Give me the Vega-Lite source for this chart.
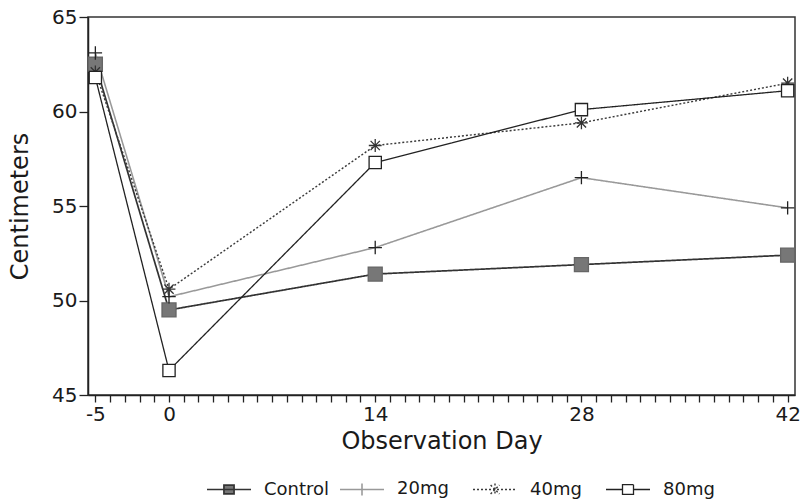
{
  "$schema": "https://vega.github.io/schema/vega-lite/v6.json",
  "width": 707,
  "height": 378,
  "autosize": {"type": "none"},
  "padding": {"left": 88, "top": 17, "right": 10, "bottom": 107},
  "background": "white",
  "config": {
    "view": {"stroke": "#333", "strokeWidth": 1.5},
    "font": "DejaVu Sans",
    "axis": {
      "grid": false,
      "domainColor": "#222",
      "domainWidth": 1.5,
      "tickColor": "#222",
      "tickWidth": 1.3,
      "labelColor": "#1a1a1a",
      "titleColor": "#1a1a1a",
      "labelFont": "DejaVu Sans",
      "titleFont": "DejaVu Sans",
      "titleFontWeight": "normal",
      "labelFontSize": 20,
      "titleFontSize": 24
    }
  },
  "data": {
    "values": [
      {"day": -5, "cm": 62.5, "group": "Control"},
      {"day": 0, "cm": 49.5, "group": "Control"},
      {"day": 14, "cm": 51.4, "group": "Control"},
      {"day": 28, "cm": 51.9, "group": "Control"},
      {"day": 42, "cm": 52.4, "group": "Control"},
      {"day": -5, "cm": 63.1, "group": "20mg"},
      {"day": 0, "cm": 50.2, "group": "20mg"},
      {"day": 14, "cm": 52.8, "group": "20mg"},
      {"day": 28, "cm": 56.5, "group": "20mg"},
      {"day": 42, "cm": 54.9, "group": "20mg"},
      {"day": -5, "cm": 62.1, "group": "40mg"},
      {"day": 0, "cm": 50.6, "group": "40mg"},
      {"day": 14, "cm": 58.2, "group": "40mg"},
      {"day": 28, "cm": 59.4, "group": "40mg"},
      {"day": 42, "cm": 61.5, "group": "40mg"},
      {"day": -5, "cm": 61.8, "group": "80mg"},
      {"day": 0, "cm": 46.3, "group": "80mg"},
      {"day": 14, "cm": 57.3, "group": "80mg"},
      {"day": 28, "cm": 60.1, "group": "80mg"},
      {"day": 42, "cm": 61.1, "group": "80mg"}
    ]
  },
  "encoding": {
    "x": {
      "field": "day",
      "type": "quantitative",
      "title": "Observation Day",
      "scale": {"domain": [-5.5, 42.5], "nice": false, "zero": false},
      "axis": {
        "values": [-5,-4,-3,-2,-1,0,1,2,3,4,5,6,7,8,9,10,11,12,13,14,15,16,17,18,19,20,21,22,23,24,25,26,27,28,29,30,31,32,33,34,35,36,37,38,39,40,41,42],
        "labelExpr": "indexof([-5,0,14,28,42], datum.value) >= 0 ? toString(datum.value) : ''",
        "labelOverlap": false,
        "labelFlush": false,
        "tickSize": 7,
        "labelPadding": 2,
        "titlePadding": 5
      }
    },
    "y": {
      "field": "cm",
      "type": "quantitative",
      "title": "Centimeters",
      "scale": {"domain": [45, 65], "nice": false, "zero": false},
      "axis": {
        "values": [45, 50, 55, 60, 65],
        "tickSize": 9,
        "labelPadding": 2,
        "titlePadding": 19
      }
    }
  },
  "layer": [
    {
      "mark": {"type": "line"},
      "encoding": {
        "color": {
          "field": "group",
          "type": "nominal",
          "sort": ["Control", "20mg", "40mg", "80mg"],
          "scale": {"domain": ["Control", "20mg", "40mg", "80mg"], "range": ["#333333", "#999999", "#3a3a3a", "#222222"]},
          "legend": {
            "orient": "none",
            "legendX": 118,
            "legendY": 449,
            "direction": "horizontal",
            "title": null,
            "padding": 0,
            "gridAlign": "all",
            "columnPadding": 6,
            "symbolSize": 1936,
            "symbolStrokeWidth": 1.4,
            "labelOffset": 12,
            "labelFontSize": 18,
            "labelFont": "DejaVu Sans",
            "labelColor": "#1a1a1a",
            "labelLimit": 200,
            "encode": {
              "symbols": {
                "update": {
                  "shape": {"signal": "datum.value === 'Control' ? 'M-1,0H1M-0.23,-0.2H0.23V0.2H-0.23Z' : datum.value === '20mg' ? 'M-1,0H1M0,-0.27V0.27' : datum.value === '40mg' ? 'M-1,0H1M0,-0.27V0.27M-0.2,-0.2L0.2,0.2M-0.2,0.2L0.2,-0.2' : 'M-1,0H-0.25M0.25,0H1M-0.25,-0.22H0.25V0.22H-0.25Z'"},
                  "fill": {"signal": "datum.value === 'Control' ? '#777777' : 'white'"},
                  "strokeDash": {"signal": "datum.value === '40mg' ? [2, 2] : [1, 0]"},
                  "size": {"value": 1936}
                }
              }
            }
          }
        },
        "strokeDash": {
          "field": "group",
          "type": "nominal",
          "scale": {"domain": ["Control", "20mg", "40mg", "80mg"], "range": [[1, 0], [1, 0], [2, 2], [1, 0]]},
          "legend": null
        },
        "strokeWidth": {
          "field": "group",
          "type": "nominal",
          "scale": {"domain": ["Control", "20mg", "40mg", "80mg"], "range": [1.7, 1.3, 1.6, 1.3]},
          "legend": null
        }
      }
    },
    {
      "mark": {"type": "point", "filled": false, "strokeWidth": 1.3, "opacity": 1},
      "encoding": {
        "shape": {
          "field": "group",
          "type": "nominal",
          "scale": {"domain": ["80mg", "40mg", "20mg", "Control"], "range": ["square", "M-1,0H1M0,-1V1M-0.72,-0.72L0.72,0.72M-0.72,0.72L0.72,-0.72", "M-1,0H1M0,-1V1", "square"]},
          "legend": null
        },
        "fill": {
          "field": "group",
          "type": "nominal",
          "scale": {"domain": ["80mg", "40mg", "20mg", "Control"], "range": ["white", "white", "white", "#777777"]},
          "legend": null
        },
        "stroke": {
          "field": "group",
          "type": "nominal",
          "scale": {"domain": ["80mg", "40mg", "20mg", "Control"], "range": ["#222222", "#333333", "#222222", "#666666"]},
          "legend": null
        },
        "size": {
          "field": "group",
          "type": "nominal",
          "scale": {"domain": ["80mg", "40mg", "20mg", "Control"], "range": [150, 196, 196, 160]},
          "legend": null
        }
      }
    }
  ]
}
